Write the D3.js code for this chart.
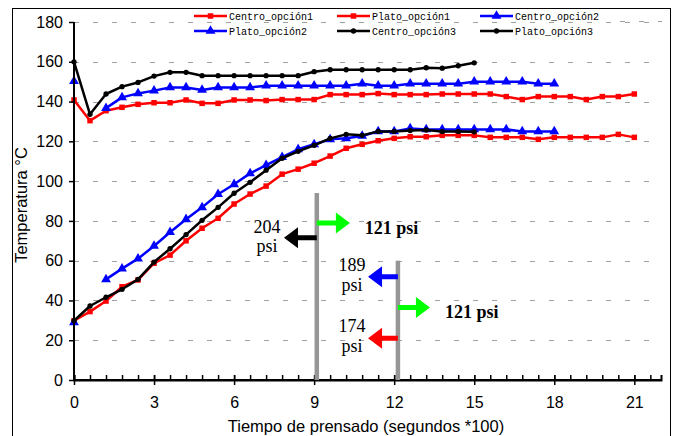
<!DOCTYPE html>
<html>
<head>
<meta charset="utf-8">
<script src="https://cdn.jsdelivr.net/npm/d3@7"></script>
<style>
  body { margin: 0; background: #fff; }
  svg { display: block; }
</style>
</head>
<body>
<svg id="chart" width="673" height="436"></svg>
<script>
// tiempo de prensado (segundos *100)
const tiempos = [0, 0.6, 1.2, 1.8, 2.4, 3, 3.6, 4.2, 4.8, 5.4, 6, 6.6, 7.2, 7.8, 8.4, 9, 9.6, 10.2,
  10.8, 11.4, 12, 12.6, 13.2, 13.8, 14.4, 15, 15.6, 16.2, 16.8, 17.4, 18, 18.6, 19.2, 19.8, 20.4, 21];

// temperaturas (°C), null = sin lectura
const centro1 = [29.8, 34.4, 39.7, 46.9, 50.3, 58.7, 62.8, 70, 76.3, 81.3, 88.5, 93.5, 97.5, 103.5, 106, 109,
  112.6, 116.5, 118.5, 120.3, 121.5, 122.3, 122.3, 123, 123, 123, 122, 122, 122, 121, 122, 122, 122, 122, 123.5, 122];
const plato1 = [140.8, 130.4, 135.4, 137.1, 138.6, 139.4, 139.4, 140.8, 139.1, 139.1, 140.8, 140.8, 140.5, 141, 141, 141,
  143.5, 143.5, 143.5, 144, 143.5, 143.5, 143.5, 143.8, 143.8, 143.8, 143.8, 142.5, 141, 142.5, 142.5, 142.5, 141, 142.5, 142.5, 143.8];
const centro2 = [29, null, 50.6, 56, 61, 67.4, 74.3, 80.8, 86.8, 93.4, 98.4, 103.9, 108, 112, 116, 118.5,
  121, 121.5, 122.7, 125, 125, 126.5, 126, 126, 126, 126, 126, 126, 125, 125, 125];
const plato2 = [150.3, null, 136.7, 142.1, 144.1, 145.5, 147.1, 147.1, 145.8, 147.1, 147.1, 147.1, 148, 148, 148, 148,
  148, 148, 149, 148, 148, 149, 149, 149, 149, 150, 150, 150, 150, 149, 149];
const centro3 = [29.8, 37.2, 41.6, 45.6, 50.6, 59.3, 66, 73.1, 80.3, 86.8, 93.9, 99.4, 105.5, 111.5, 115, 118,
  121.5, 123.5, 123, 125, 125, 125.4, 125.7, 125, 125, 124.8];
const plato3 = [160, 133.6, 143.8, 147.5, 149.6, 152.8, 154.7, 154.7, 153, 153, 153, 153, 153, 153, 153, 155,
  156, 156, 156, 156, 156, 156, 157, 156.8, 158, 159.5];

const nombres = ["Centro_opción1", "Plato_opción1", "Centro_opción2", "Plato_opción2", "Centro_opción3", "Plato_opción3"];
const valores = [centro1, plato1, centro2, plato2, centro3, plato3];
const colores = ["#ff0000", "#ff0000", "#0000ff", "#0000ff", "#000000", "#000000"];
const simbolos = [d3.symbolSquare, d3.symbolSquare, d3.symbolTriangle, d3.symbolTriangle, d3.symbolCircle, d3.symbolCircle];
const tamanos = [30, 30, 42, 42, 22, 22];

const xTicks = [0, 3, 6, 9, 12, 15, 18, 21];
const yTicks = [0, 20, 40, 60, 80, 100, 120, 140, 160, 180];

// anotaciones de presión
const lineasPrensa = [{ t: 9.1, top: 94 }, { t: 12.14, top: 60 }];
const flechas = [
  { desde: 9.1, hasta: 10.34, v: 79, color: "#00ff00" },
  { desde: 9.1, hasta: 7.87, v: 71.5, color: "#000000" },
  { desde: 12.14, hasta: 11.02, v: 51.9, color: "#0000ff" },
  { desde: 12.14, hasta: 13.34, v: 36.5, color: "#00ff00" },
  { desde: 12.14, hasta: 11.02, v: 21, color: "#ff0000" }
];
const textos = [
  { t: 10.9, v: 73.5, txt: "121 psi", bold: true, anchor: "start" },
  { t: 7.23, v: 73.7, txt: "204", bold: false, anchor: "middle" },
  { t: 7.23, v: 64.3, txt: "psi", bold: false, anchor: "middle" },
  { t: 10.42, v: 55, txt: "189", bold: false, anchor: "middle" },
  { t: 10.42, v: 45, txt: "psi", bold: false, anchor: "middle" },
  { t: 13.9, v: 31.2, txt: "121 psi", bold: true, anchor: "start" },
  { t: 10.42, v: 24.3, txt: "174", bold: false, anchor: "middle" },
  { t: 10.42, v: 14, txt: "psi", bold: false, anchor: "middle" }
];

const svg = d3.select("#chart");
const x = d3.scaleLinear().domain([0, 22]).range([74, 661]);
const y = d3.scaleLinear().domain([0, 180]).range([380, 22]);

// marco exterior
svg.append("rect")
  .attr("x", 12.5).attr("y", 8.5)
  .attr("width", 658).attr("height", 440)
  .attr("fill", "none").attr("stroke", "#000").attr("stroke-width", 1);

// líneas de rejilla
svg.append("g").selectAll("line")
  .data(yTicks.filter(d => d > 0))
  .join("line")
  .attr("x1", x(0)).attr("x2", x(22))
  .attr("y1", d => Math.round(y(d)) + 0.5).attr("y2", d => Math.round(y(d)) + 0.5)
  .attr("stroke", "#a0a0a0").attr("stroke-width", 1)
  .attr("stroke-dasharray", "5,14");

// series
const line = d3.line()
  .defined(d => d[1] != null)
  .x(d => x(d[0]))
  .y(d => y(d[1]));

valores.forEach(function (serie, i) {
  const pts = serie.map((v, j) => [tiempos[j], v]);
  svg.append("path")
    .datum(pts)
    .attr("d", line)
    .attr("fill", "none")
    .attr("stroke", colores[i])
    .attr("stroke-width", 2.5)
    .attr("stroke-linejoin", "round");
  svg.append("g").selectAll("path")
    .data(pts.filter(d => d[1] != null))
    .join("path")
    .attr("transform", d => "translate(" + x(d[0]) + "," + y(d[1]) + ")")
    .attr("d", d3.symbol().type(simbolos[i]).size(tamanos[i]))
    .attr("fill", colores[i]);
});

// ejes
const gx = svg.append("g")
  .attr("transform", "translate(0," + y(0) + ")")
  .call(d3.axisBottom(x).tickValues(xTicks).tickSize(5).tickPadding(12).tickFormat(d3.format("d")));
const gxMinor = svg.append("g")
  .attr("transform", "translate(0," + y(0) + ")")
  .call(d3.axisBottom(x).tickValues(d3.range(0, 21.7, 0.6)).tickSize(-5).tickFormat(""));
const gy = svg.append("g")
  .attr("transform", "translate(" + x(0) + ",0)")
  .call(d3.axisLeft(y).tickValues(yTicks).tickSize(5).tickPadding(6));

[gx, gxMinor, gy].forEach(function (g) {
  g.select(".domain").attr("stroke", "#000").attr("stroke-width", 2);
  g.selectAll(".tick line").attr("stroke", "#000").attr("stroke-width", 1.5);
  g.selectAll("text")
    .attr("font-family", "Liberation Sans, Arial, sans-serif")
    .attr("font-size", 16)
    .attr("fill", "#000");
});
gy.select(".domain").attr("d", "M0," + y(0) + "V" + y(180));
gx.select(".domain").attr("d", "M" + x(0) + ",0H" + x(22));
gx.selectAll(".tick line").attr("y1", -5);

// títulos de ejes
svg.append("text")
  .attr("transform", "translate(27," + (y(88)) + ") rotate(-90)")
  .attr("text-anchor", "middle")
  .attr("font-family", "Liberation Sans, Arial, sans-serif")
  .attr("font-size", 16.5)
  .text("Temperatura °C");
svg.append("text")
  .attr("x", 366).attr("y", 432)
  .attr("text-anchor", "middle")
  .attr("font-family", "Liberation Sans, Arial, sans-serif")
  .attr("font-size", 16.5)
  .text("Tiempo de prensado (segundos *100)");

// anotaciones
svg.append("g").selectAll("line")
  .data(lineasPrensa)
  .join("line")
  .attr("x1", d => x(d.t)).attr("x2", d => x(d.t))
  .attr("y1", d => y(d.top)).attr("y2", y(0))
  .attr("stroke", "#969696").attr("stroke-width", 4.5);

function flecha(d) {
  const x0 = x(d.desde), x1 = x(d.hasta), yy = y(d.v);
  const s = Math.sign(x1 - x0);
  const hb = x1 - s * 14;
  return "M" + x0 + "," + (yy - 2.5) + "L" + hb + "," + (yy - 2.5) + "L" + hb + "," + (yy - 10.5) +
    "L" + x1 + "," + yy + "L" + hb + "," + (yy + 10.5) + "L" + hb + "," + (yy + 2.5) +
    "L" + x0 + "," + (yy + 2.5) + "Z";
}
svg.append("g").selectAll("path")
  .data(flechas)
  .join("path")
  .attr("d", flecha)
  .attr("fill", d => d.color);

svg.append("g").selectAll("text")
  .data(textos)
  .join("text")
  .attr("x", d => x(d.t)).attr("y", d => y(d.v))
  .attr("text-anchor", d => d.anchor)
  .attr("font-family", "Liberation Serif, Times New Roman, serif")
  .attr("font-size", 18)
  .attr("font-weight", d => d.bold ? "bold" : "normal")
  .text(d => d.txt);

// leyenda
const legX = [194, 337, 480];
const legY = [16, 31];
const leg = svg.append("g").selectAll("g")
  .data(nombres)
  .join("g")
  .attr("transform", (d, i) => "translate(" + legX[i % 3] + "," + legY[Math.floor(i / 3)] + ")");
leg.append("line")
  .attr("x1", 0).attr("x2", 33)
  .attr("stroke", (d, i) => colores[i]).attr("stroke-width", 2.5);
leg.append("path")
  .attr("transform", "translate(16.5,0)")
  .attr("d", (d, i) => d3.symbol().type(simbolos[i]).size(tamanos[i])())
  .attr("fill", (d, i) => colores[i]);
leg.append("text")
  .attr("x", 35).attr("y", 4)
  .attr("font-family", "Liberation Mono, Courier New, monospace")
  .attr("font-size", 10)
  .text(d => d);
svg.append("line")
  .attr("x1", 620).attr("x2", 662)
  .attr("y1", 21.5).attr("y2", 21.5)
  .attr("stroke", "#a0a0a0").attr("stroke-dasharray", "5,14");
</script>
</body>
</html>
